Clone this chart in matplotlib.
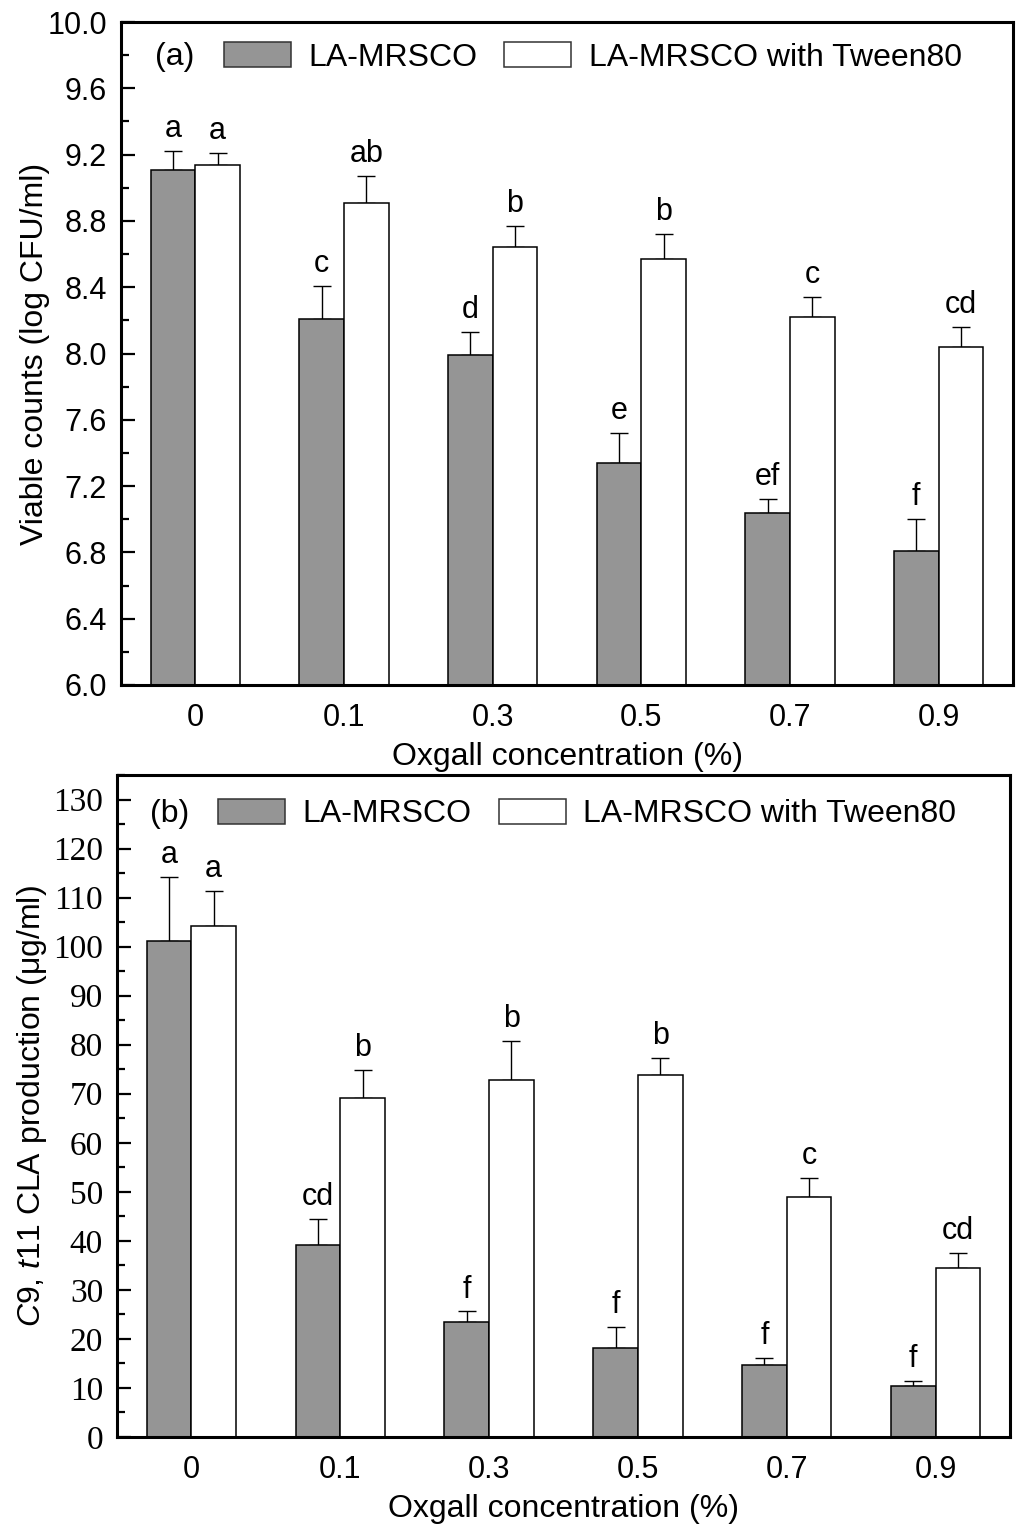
import matplotlib
matplotlib.use('Agg')
import matplotlib.pyplot as plt
from matplotlib.patches import Patch
from matplotlib.ticker import MultipleLocator, FormatStrFormatter
import numpy as np

# ---------------- data ----------------
categories = ['0', '0.1', '0.3', '0.5', '0.7', '0.9']
series_names = ['LA-MRSCO', 'LA-MRSCO with Tween80']

viable_mrsco = [9.11, 8.21, 7.99, 7.34, 7.04, 6.81]
viable_mrsco_err = [0.11, 0.20, 0.14, 0.18, 0.08, 0.19]
viable_tween = [9.14, 8.91, 8.64, 8.57, 8.22, 8.04]
viable_tween_err = [0.07, 0.16, 0.13, 0.15, 0.12, 0.12]
viable_mrsco_letters = ['a', 'c', 'd', 'e', 'ef', 'f']
viable_tween_letters = ['a', 'ab', 'b', 'b', 'c', 'cd']

cla_mrsco = [101.2, 39.2, 23.5, 18.1, 14.6, 10.4]
cla_mrsco_err = [13.1, 5.3, 2.1, 4.3, 1.6, 1.0]
cla_tween = [104.2, 69.2, 72.9, 73.9, 49.0, 34.4]
cla_tween_err = [7.1, 5.7, 7.9, 3.3, 3.9, 3.2]
cla_mrsco_letters = ['a', 'cd', 'f', 'f', 'f', 'f']
cla_tween_letters = ['a', 'b', 'b', 'b', 'c', 'cd']

# ---------------- style ----------------
SANS = 'Liberation Sans'
SERIF = 'Liberation Serif'
FS = 22        # tick labels / letters
FS_LAB = 23    # axis labels and legend
GRAY = '#959595'
plt.rcParams['font.family'] = [SANS, 'DejaVu Sans']
plt.rcParams['font.size'] = FS
plt.rcParams['mathtext.fontset'] = 'custom'
plt.rcParams['mathtext.it'] = 'Liberation Sans:italic'
plt.rcParams['mathtext.rm'] = 'Liberation Sans'

fig = plt.figure(figsize=(10.24, 15.34), dpi=100)
W, H = 1024, 1534


def px_axes(left, top, right, bottom):
    return fig.add_axes([left / W, 1 - bottom / H, (right - left) / W, (bottom - top) / H])


ax_a = px_axes(121, 22, 1013, 685)
ax_b = px_axes(117, 775, 1010, 1437)

x = np.arange(len(categories))
w = 0.30


def draw_panel(ax, g_vals, g_err, w_vals, w_err, g_let, w_let):
    ax.bar(x - w / 2, g_vals, w, color=GRAY, edgecolor='black', linewidth=1.1, zorder=2)
    ax.bar(x + w / 2, w_vals, w, color='white', edgecolor='black', linewidth=1.1, zorder=2)
    for xs, vals, errs in ((x - w / 2, g_vals, g_err), (x + w / 2, w_vals, w_err)):
        ax.errorbar(xs, vals, yerr=[np.zeros(len(vals)), errs], fmt='none',
                    ecolor='black', elinewidth=1.0, capsize=6.5, capthick=1.0, zorder=1)
    for xs, vals, errs, lets in ((x - w / 2, g_vals, g_err, g_let), (x + w / 2, w_vals, w_err, w_let)):
        for xi, v, e, t in zip(xs, vals, errs, lets):
            ax.annotate(t, (xi, v + e), xytext=(0, 5), textcoords='offset points',
                        ha='center', va='bottom', fontsize=FS, family=SANS)
    ax.set_xlim(-0.5, len(categories) - 0.5)
    ax.set_xticks(x)
    ax.set_xticklabels(categories, family=SANS, fontsize=FS)
    ax.tick_params(axis='x', length=0, pad=13)
    ax.tick_params(axis='y', which='major', direction='in', length=10, width=1.6, pad=10, right=False)
    ax.tick_params(axis='y', which='minor', direction='in', length=6, width=1.6, right=False)
    for s in ax.spines.values():
        s.set_linewidth(2.2)
    ax.set_xlabel('Oxgall concentration (%)', fontsize=FS_LAB, family=SANS)
    ax.xaxis.set_label_coords(0.5, -0.086)
    handles = [Patch(facecolor=GRAY, edgecolor='#333333', linewidth=1.1),
               Patch(facecolor='white', edgecolor='#333333', linewidth=1.1)]
    return handles


LEG = dict(loc='center left', ncol=2, frameon=False, borderpad=0, borderaxespad=0,
           handlelength=2.1, handleheight=0.85, handletextpad=0.55, columnspacing=0.85,
           fontsize=FS_LAB)

# panel (a)
h = draw_panel(ax_a, viable_mrsco, viable_mrsco_err, viable_tween, viable_tween_err,
               viable_mrsco_letters, viable_tween_letters)
ax_a.set_ylim(6.0, 10.0)
ax_a.yaxis.set_major_locator(MultipleLocator(0.4))
ax_a.yaxis.set_minor_locator(MultipleLocator(0.2))
ax_a.yaxis.set_major_formatter(FormatStrFormatter('%.1f'))
for lab in ax_a.get_yticklabels():
    lab.set_family(SANS)
    lab.set_fontsize(FS)
ax_a.set_ylabel('Viable counts (log CFU/ml)', fontsize=FS_LAB, family=SANS)
ax_a.yaxis.set_label_coords(-0.080, 0.5)
ax_a.text(0.038, 0.947, '(a)', transform=ax_a.transAxes, ha='left', va='center', fontsize=FS_LAB)
ax_a.legend(h, series_names, bbox_to_anchor=(0.115, 0.947), **LEG)

# panel (b)
h = draw_panel(ax_b, cla_mrsco, cla_mrsco_err, cla_tween, cla_tween_err,
               cla_mrsco_letters, cla_tween_letters)
ax_b.set_ylim(0, 135)
ax_b.yaxis.set_major_locator(MultipleLocator(10))
ax_b.yaxis.set_minor_locator(MultipleLocator(5))
ax_b.yaxis.set_major_formatter(FormatStrFormatter('%d'))
for lab in ax_b.get_yticklabels():
    lab.set_family(SERIF)
    lab.set_fontsize(FS + 2)
ax_b.set_ylabel('$\\it{C}$9, $\\it{t}$11 CLA production (μg/ml)', fontsize=FS_LAB, family=SANS)
ax_b.yaxis.set_label_coords(-0.076, 0.5)
ax_b.text(0.037, 0.941, '(b)', transform=ax_b.transAxes, ha='left', va='center', fontsize=FS_LAB)
ax_b.legend(h, series_names, bbox_to_anchor=(0.113, 0.941), **LEG)

fig.savefig('out.png', dpi=100)
